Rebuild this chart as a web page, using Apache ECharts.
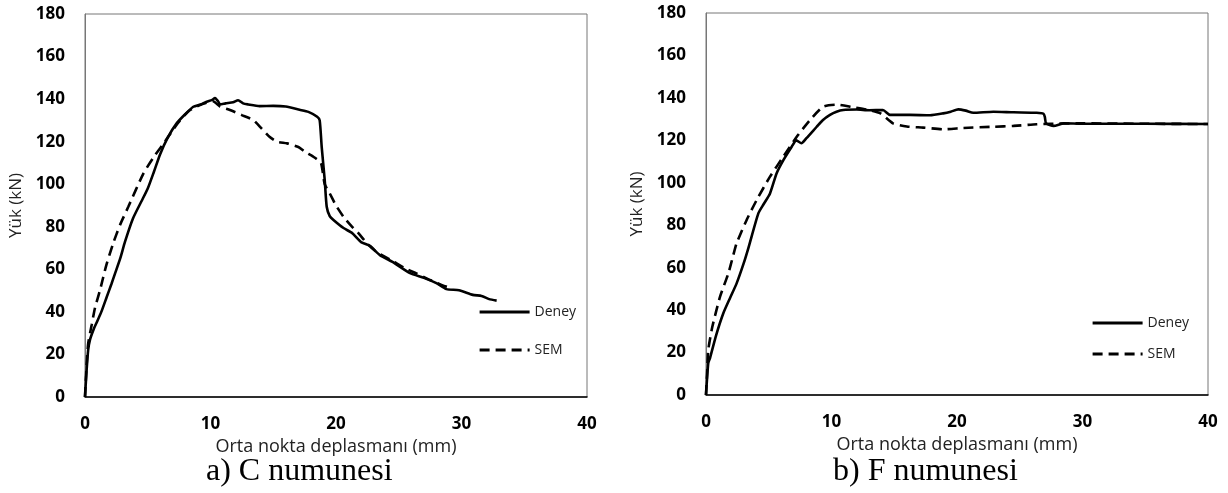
<!DOCTYPE html>
<html>
<head>
<meta charset="utf-8">
<script src="https://cdn.jsdelivr.net/npm/echarts@6/dist/echarts.min.js"></script>
<style>html,body{margin:0;padding:0;background:#fff;}#c{width:1228px;height:493px;}</style>
</head>
<body>
<div id="c"></div>
<script>
// x: Orta nokta deplasmanı (mm), y: Yük (kN)
const cDeney = [[0,0],[0.1,10],[0.25,22],[0.4,27],[0.7,32],[0.93,35],[1.3,40],[1.73,47],[2.1,53],[2.39,58],[2.8,65],[3.19,73],[3.83,84],[4.5,92],[5,98],[5.5,106],[5.98,114],[6.6,122],[7.3,128.6],[8,133],[8.63,136.4],[9.2,137.5],[9.7,138.8],[10.1,139.5],[10.36,140.5],[10.6,139],[10.76,137.5],[11.2,138],[11.8,138.5],[12.2,139.5],[12.6,138],[13,137.5],[13.9,136.7],[15,136.8],[16,136.5],[17.1,135],[17.8,134],[18.5,131.7],[18.7,130],[18.86,117.6],[19.1,102],[19.26,89.4],[19.5,85],[19.8,83.2],[20.6,79.4],[21.3,77],[22,72.8],[22.7,71],[23.5,66.7],[24.5,63.5],[25.9,58.2],[27,56],[28,53.5],[28.8,50.7],[29.8,50.2],[30.9,48],[31.6,47.5],[32.2,46],[32.8,45.3]];
const cSem = [[0,0],[0.1,12],[0.25,25],[0.53,33.8],[0.8,42],[1.2,50.3],[1.7,62],[2.25,72.3],[2.8,81],[3.45,89.4],[4.65,105],[5.5,113],[6.37,120],[7,125.5],[7.57,130],[8.3,134.5],[9.16,137.2],[9.8,138.5],[10.2,139],[10.76,136.5],[11.55,134.9],[12.5,132.5],[13.4,130.2],[14.1,126],[14.7,122.3],[15.3,120],[16.1,119.2],[17,117.5],[17.5,115.3],[18.2,112.9],[18.8,110],[19.1,100],[19.5,95.7],[20,90],[20.6,84.7],[21.2,80.5],[21.8,76.9],[22.5,72],[23.2,68.3],[24.5,64],[25.5,60.5],[26.4,58.1],[27.5,55],[28.6,52.2],[29,51.5]];
const fDeney = [[0,0],[0.18,15],[0.32,17.4],[0.8,28],[1.38,38.5],[1.9,45.5],[2.44,52.6],[3,62],[3.37,69.1],[4.17,85.6],[4.6,90],[5.1,95],[5.63,104.5],[6.2,111],[6.83,117],[7.2,120],[7.6,118.6],[8,121],[8.82,126.4],[9.3,129.5],[9.88,132],[10.4,133.5],[10.94,134.3],[12,134.5],[13,134.2],[14.1,134.3],[14.66,132],[16.25,132],[17.85,131.8],[18.9,132.7],[19.5,133.5],[20.1,134.6],[20.7,134],[21.3,133],[22.9,133.5],[24.5,133.2],[26.35,133],[26.9,132.5],[27.0,131],[27.1,128],[27.7,126.8],[28.5,128],[30,127.8],[35,127.8],[40,127.7]];
const fSem = [[0,0],[0.1,12],[0.18,21.2],[0.5,32],[1.12,46.3],[1.78,57.3],[2.18,66],[2.44,71.5],[3.24,82.5],[4.04,91.9],[5.1,102.9],[6.16,112.3],[7.23,121.7],[8.29,129.6],[9.35,135.9],[10.4,136.8],[11.7,135.6],[12.8,134.5],[13.9,132.7],[14.9,128],[16,126.5],[17.3,126],[18.9,125.2],[20.5,125.8],[22.9,126.4],[24.5,126.8],[26.35,127.6],[27.5,127.8],[29.5,128],[35,127.8],[40,127.7]];
const seriesNames = ['Deney', 'SEM'];
const xTitle = 'Orta nokta deplasmanı (mm)';
const yTitle = 'Yük (kN)';
const subTitles = ['a) C numunesi', 'b) F numunesi'];

const chart = echarts.init(document.getElementById('c'));
const font = '"Open Sans", sans-serif';
function xAx(i) {
  return {
    type: 'value', gridIndex: i, min: 0, max: 40, interval: 10,
    name: xTitle, nameLocation: 'middle', nameGap: 37,
    nameTextStyle: {fontFamily: font, fontSize: 18, color: '#222'},
    axisLine: {show: true, lineStyle: {color: '#000', width: 1.5}},
    axisTick: {show: false}, splitLine: {show: false},
    axisLabel: {fontFamily: font, fontSize: 17, fontWeight: 'bold', color: '#000', margin: 19}
  };
}
function yAx(i) {
  return {
    type: 'value', gridIndex: i, min: 0, max: 180, interval: 20,
    name: yTitle, nameLocation: 'middle', nameGap: 60, nameRotate: 90,
    nameTextStyle: {fontFamily: font, fontSize: 17, color: '#222'},
    axisLine: {show: true, lineStyle: {color: '#777', width: 1}},
    axisTick: {show: false}, splitLine: {show: false},
    axisLabel: {fontFamily: font, fontSize: 17, fontWeight: 'bold', color: '#000', margin: 20}
  };
}
function ser(name, data, i, dashed) {
  return {
    name: name, type: 'line', xAxisIndex: i, yAxisIndex: i, data: data,
    showSymbol: false, symbol: 'none', smooth: 0.2, animation: false, color: '#000',
    itemStyle: {color: '#000'},
    lineStyle: {color: '#000', width: 2.6, type: dashed ? [10, 6] : 'solid'}
  };
}
const legendCommon = {
  orient: 'vertical', itemWidth: 50, itemHeight: 14, data: seriesNames, selectedMode: false,
  itemStyle: {color: 'rgba(0,0,0,0)', borderWidth: 0, opacity: 0},
  lineStyle: {width: 3.2},
  textStyle: {fontFamily: font, fontSize: 14, color: '#222'}
};
chart.setOption({
  animation: false,
  grid: [
    {left: 85, top: 14, width: 502, height: 383, show: true, borderColor: '#777', borderWidth: 1},
    {left: 706, top: 13, width: 502, height: 382, show: true, borderColor: '#777', borderWidth: 1}
  ],
  xAxis: [xAx(0), xAx(1)],
  yAxis: [yAx(0), yAx(1)],
  legend: [
    Object.assign({left: 473, top: 300, itemGap: 24}, legendCommon),
    Object.assign({left: 1086, top: 311, itemGap: 17}, legendCommon)
  ],
  series: [
    ser(seriesNames[0], cDeney, 0, false), ser(seriesNames[1], cSem, 0, true),
    ser(seriesNames[0], fDeney, 1, false), ser(seriesNames[1], fSem, 1, true)
  ],
  graphic: [
    {type: 'text', left: 206, top: 456, style: {text: subTitles[0], font: '32px "Liberation Serif", serif', fill: '#000'}},
    {type: 'text', left: 833, top: 456, style: {text: subTitles[1], font: '32px "Liberation Serif", serif', fill: '#000'}}
  ]
});
</script>
</body>
</html>
